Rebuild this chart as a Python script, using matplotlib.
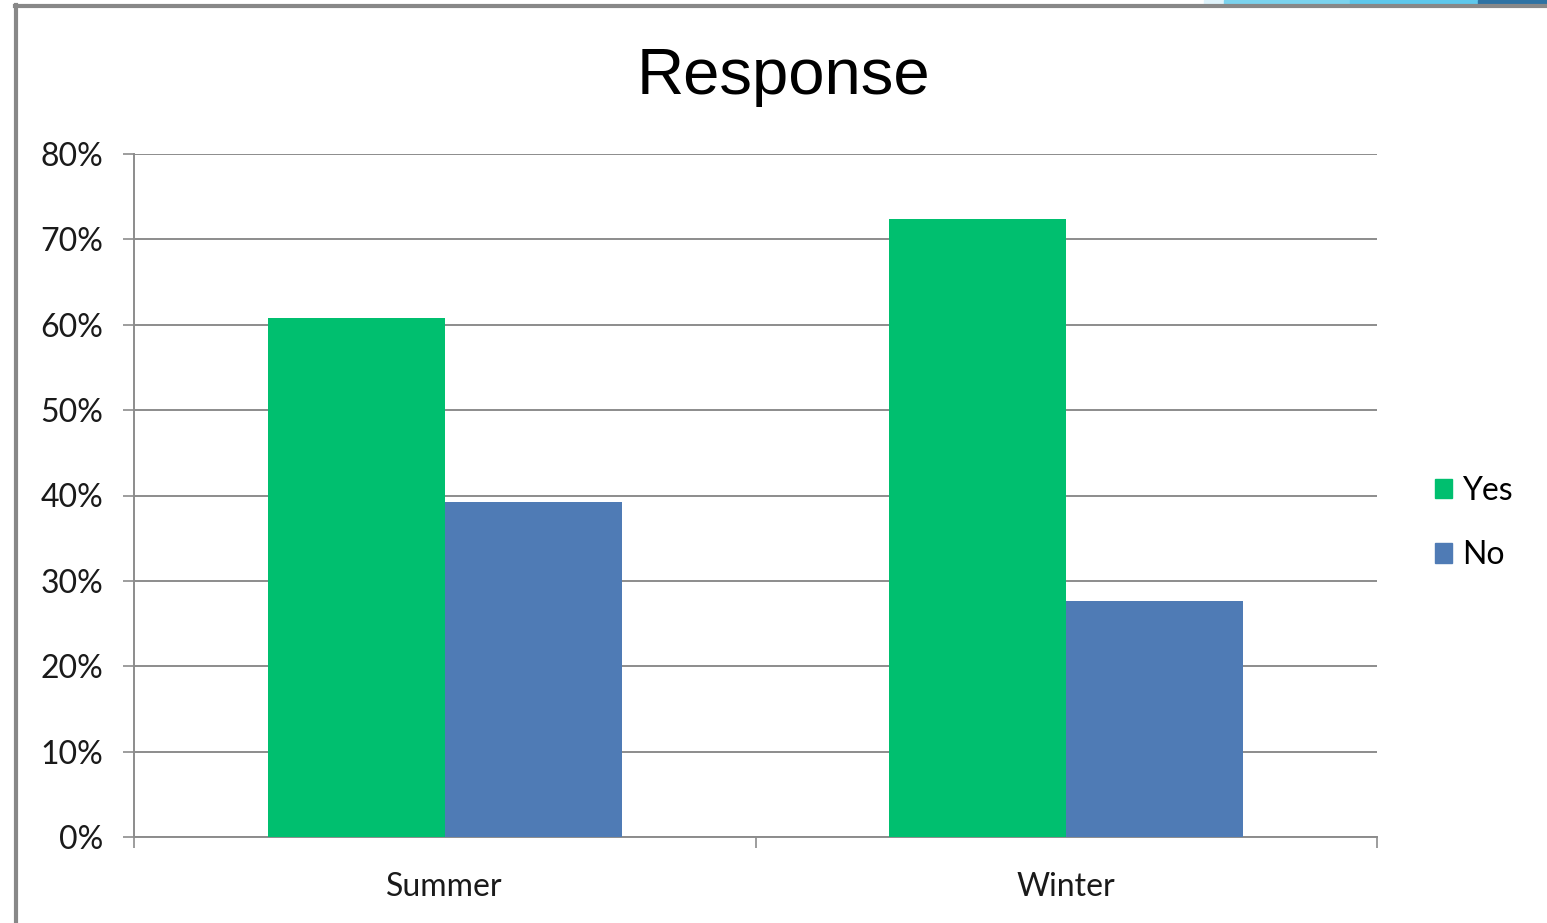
import numpy as np
import matplotlib.pyplot as plt
import matplotlib.patches as mpatches
from matplotlib.ticker import FuncFormatter, FixedLocator

# -------------------------------------------
# Data
# -------------------------------------------

seasons = ['Summer', 'Winter']
yes_share = [60.8, 72.4]
no_share = [39.2, 27.6]
series_names = ['Yes', 'No']
y_ticks = [0, 10, 20, 30, 40, 50, 60, 70, 80]

GREEN = '#00BF6F'
BLUE = '#4F7BB5'
GRID = '#8C8C8C'

# -------------------------------------------
# Figure
# -------------------------------------------

W, H = 1547, 923
fig = plt.figure(figsize=(W / 100, H / 100), dpi=100)
ax = fig.add_axes([134 / W, 1 - 837 / H, (1377 - 134) / W, (837 - 154) / H])

x = np.arange(len(seasons))
bw = 0.285
ax.bar(x - bw / 2, yes_share, bw, color=GREEN, label=series_names[0], zorder=3)
ax.bar(x + bw / 2, no_share, bw, color=BLUE, label=series_names[1], zorder=3)

ax.set_xlim(-0.5, 1.5)
ax.set_ylim(0, 80)
ax.set_yticks(y_ticks)
ax.yaxis.set_major_formatter(FuncFormatter(lambda v, p: f'{v:.0f}%'))
ax.grid(axis='y', color=GRID, linewidth=1.4, zorder=0)

# category labels between boundary ticks
ax.xaxis.set_major_locator(FixedLocator([-0.5, 0.5, 1.5]))
ax.xaxis.set_minor_locator(FixedLocator(x))
ax.set_xticklabels([], minor=False)
ax.set_xticklabels(seasons, minor=True)
ax.tick_params(axis='x', which='major', length=8, width=1.2, color=GRID)
ax.tick_params(axis='x', which='minor', length=0, pad=25, labelsize=23)
ax.tick_params(axis='y', length=8, width=1.2, color=GRID, labelsize=23, pad=14)
for lab in ax.get_xticklabels(minor=True) + ax.get_yticklabels():
    lab.set_fontfamily('Lato')
    lab.set_color('#1a1a1a')

for s in ['top', 'right']:
    ax.spines[s].set_visible(False)
for s in ['left', 'bottom']:
    ax.spines[s].set_color(GRID)
    ax.spines[s].set_linewidth(1.4)

fig.text(783 / W, 1 - 77 / H, 'Response', ha='center', va='center',
         fontsize=47, family='Liberation Sans')

handles = [mpatches.Patch(color=GREEN), mpatches.Patch(color=BLUE)]
leg = fig.legend(handles, series_names, loc='center left',
                 bbox_to_anchor=(1406 / W, 1 - 523 / H), frameon=False,
                 prop={'family': 'Lato', 'size': 23}, handlelength=0.55,
                 handleheight=0.55, handletextpad=0.3, labelspacing=1.08)

# slide frame and decoration
fig.add_artist(plt.Line2D([16 / W, 16 / W], [0, 1 - 5 / H], color='#888888',
                          linewidth=3, transform=fig.transFigure))
fig.add_artist(plt.Line2D([15 / W, 1], [1 - 6 / H, 1 - 6 / H], color='#888888',
                          linewidth=3, transform=fig.transFigure))
for x0, x1, c in [(1204, 1224, '#DFF3FB'), (1224, 1350, '#7BD3EE'),
                  (1350, 1478, '#5EC8EC'), (1478, 1547, '#2E72A3')]:
    fig.add_artist(mpatches.Rectangle((x0 / W, 1 - 5 / H), (x1 - x0) / W, 5 / H,
                                      color=c, transform=fig.transFigure))

fig.savefig('out.png', dpi=100)
